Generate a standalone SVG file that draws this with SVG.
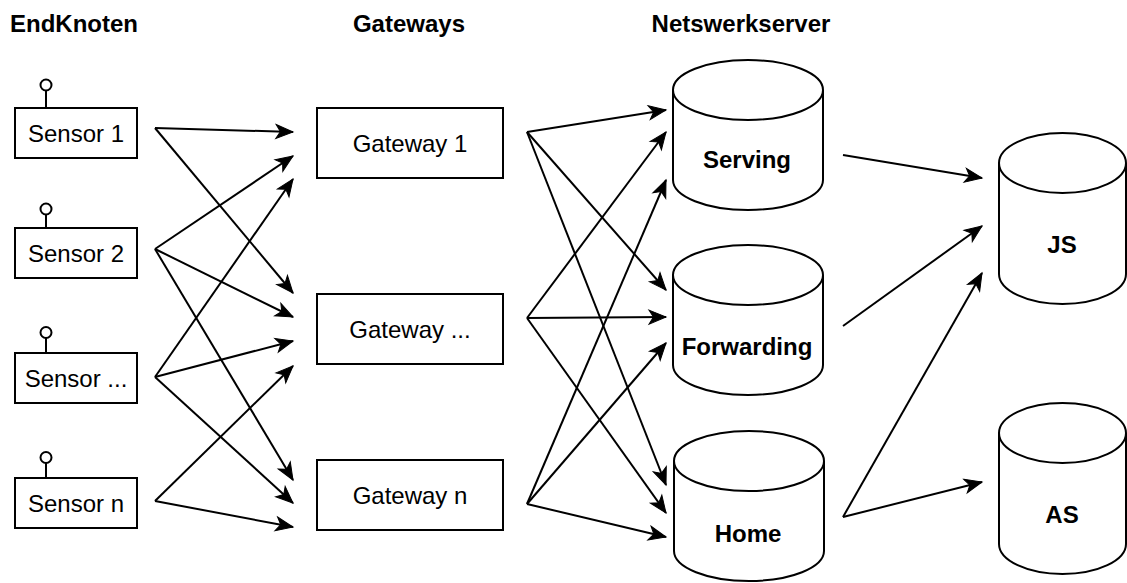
<svg xmlns="http://www.w3.org/2000/svg" width="1127" height="583" viewBox="0 0 1127 583">
  <style>
    .box { fill: #fff; stroke: #000; stroke-width: 2; }
    .ant { fill: #fff; stroke: #000; stroke-width: 2; }
    .lbl { font-family: "Liberation Sans", Arial, sans-serif; font-size: 24px; fill: #000; text-anchor: middle; }
    .bold { font-weight: bold; }
    .title { font-family: "Liberation Sans", Arial, sans-serif; font-size: 24px; font-weight: bold; fill: #000; }
    .edge { fill: none; stroke: #000; stroke-width: 2; marker-end: url(#arrow); }
  </style>
  <defs>
    <marker id="arrow" markerUnits="userSpaceOnUse" markerWidth="18" markerHeight="16" refX="17" refY="7.5" orient="auto" overflow="visible">
      <path d="M0,0.5 L17,7.5 L0,14.5 L4.5,7.5 Z" fill="#000" stroke="#000" stroke-width="1" stroke-linejoin="miter"/>
    </marker>
  </defs>
  <rect width="1127" height="583" fill="#fff"/>

  <!-- column headings -->
  <g id="headings">
    <text class="title" x="10" y="32">EndKnoten</text>
    <text class="title" x="409" y="32" text-anchor="middle">Gateways</text>
    <text class="title" x="741" y="32" text-anchor="middle">Netswerkserver</text>
  </g>

  <!-- connectors -->
  <g id="connectors">
    <!-- end nodes to gateways -->
    <path class="edge" d="M155,128 L293,132"/>
    <path class="edge" d="M155,128 L293,293"/>
    <path class="edge" d="M155,249 L293,156"/>
    <path class="edge" d="M155,249 L293,317"/>
    <path class="edge" d="M155,249 L293,480"/>
    <path class="edge" d="M155,377 L293,179"/>
    <path class="edge" d="M155,377 L293,341"/>
    <path class="edge" d="M155,377 L293,503"/>
    <path class="edge" d="M155,501 L293,366"/>
    <path class="edge" d="M155,501 L293,527"/>
    <!-- gateways to network servers -->
    <path class="edge" d="M527,132 L666,110"/>
    <path class="edge" d="M527,132 L666,290"/>
    <path class="edge" d="M527,132 L666,485"/>
    <path class="edge" d="M527,318 L666,132"/>
    <path class="edge" d="M527,318 L666,317"/>
    <path class="edge" d="M527,318 L666,513"/>
    <path class="edge" d="M527,504 L666,180"/>
    <path class="edge" d="M527,504 L666,343"/>
    <path class="edge" d="M527,504 L666,537"/>
    <!-- network servers to join / application servers -->
    <path class="edge" d="M843,155 L982,178"/>
    <path class="edge" d="M843,326 L982,226"/>
    <path class="edge" d="M843,517 L982,273"/>
    <path class="edge" d="M843,517 L982,482"/>
  </g>

  <!-- end nodes -->
  <g id="sensor-1">
    <line x1="46" y1="90.5" x2="46" y2="108" stroke="#000" stroke-width="2"/>
    <circle class="ant" cx="46" cy="85" r="5.5"/>
    <rect class="box" x="15" y="108" width="122" height="50"/>
    <text class="lbl" x="76" y="141.5">Sensor 1</text>
  </g>
  <g id="sensor-2">
    <line x1="46" y1="214.5" x2="46" y2="228" stroke="#000" stroke-width="2"/>
    <circle class="ant" cx="46" cy="209" r="5.5"/>
    <rect class="box" x="15" y="228" width="122" height="50"/>
    <text class="lbl" x="76" y="261.5">Sensor 2</text>
  </g>
  <g id="sensor-x">
    <line x1="46" y1="338" x2="46" y2="353" stroke="#000" stroke-width="2"/>
    <circle class="ant" cx="46" cy="332.5" r="5.5"/>
    <rect class="box" x="15" y="353" width="122" height="50"/>
    <text class="lbl" x="76" y="386.5">Sensor ...</text>
  </g>
  <g id="sensor-n">
    <line x1="46" y1="463" x2="46" y2="478" stroke="#000" stroke-width="2"/>
    <circle class="ant" cx="46" cy="457.5" r="5.5"/>
    <rect class="box" x="15" y="478" width="122" height="50"/>
    <text class="lbl" x="76" y="511.5">Sensor n</text>
  </g>

  <!-- gateways -->
  <g id="gateway-1">
    <rect class="box" x="317" y="108" width="186" height="70"/>
    <text class="lbl" x="410" y="151.5">Gateway 1</text>
  </g>
  <g id="gateway-x">
    <rect class="box" x="317" y="294" width="186" height="70"/>
    <text class="lbl" x="410" y="337.5">Gateway ...</text>
  </g>
  <g id="gateway-n">
    <rect class="box" x="317" y="460" width="186" height="70"/>
    <text class="lbl" x="410" y="503.5">Gateway n</text>
  </g>

  <!-- network servers (cylinders) -->
  <g id="serving">
    <path class="box" d="M673,90 A75,30 0 0 1 823,90 L823,180 A75,30 0 0 1 673,180 Z"/>
    <path class="box" d="M673,90 A75,30 0 0 0 823,90" fill="none"/>
    <text class="lbl bold" x="747" y="168">Serving</text>
  </g>
  <g id="forwarding">
    <path class="box" d="M673,275 A75,30 0 0 1 823,275 L823,365 A75,30 0 0 1 673,365 Z"/>
    <path class="box" d="M673,275 A75,30 0 0 0 823,275" fill="none"/>
    <text class="lbl bold" x="747" y="355">Forwarding</text>
  </g>
  <g id="home">
    <path class="box" d="M674,461 A75,30 0 0 1 824,461 L824,551 A75,30 0 0 1 674,551 Z"/>
    <path class="box" d="M674,461 A75,30 0 0 0 824,461" fill="none"/>
    <text class="lbl bold" x="748" y="542">Home</text>
  </g>

  <!-- join server -->
  <g id="js">
    <path class="box" d="M999,163 A63.5,30 0 0 1 1126,163 L1126,274 A63.5,30 0 0 1 999,274 Z"/>
    <path class="box" d="M999,163 A63.5,30 0 0 0 1126,163" fill="none"/>
    <text class="lbl bold" x="1062" y="253">JS</text>
  </g>

  <!-- application server -->
  <g id="as">
    <path class="box" d="M999,433 A63.5,30 0 0 1 1126,433 L1126,544 A63.5,30 0 0 1 999,544 Z"/>
    <path class="box" d="M999,433 A63.5,30 0 0 0 1126,433" fill="none"/>
    <text class="lbl bold" x="1062" y="523">AS</text>
  </g>
</svg>
